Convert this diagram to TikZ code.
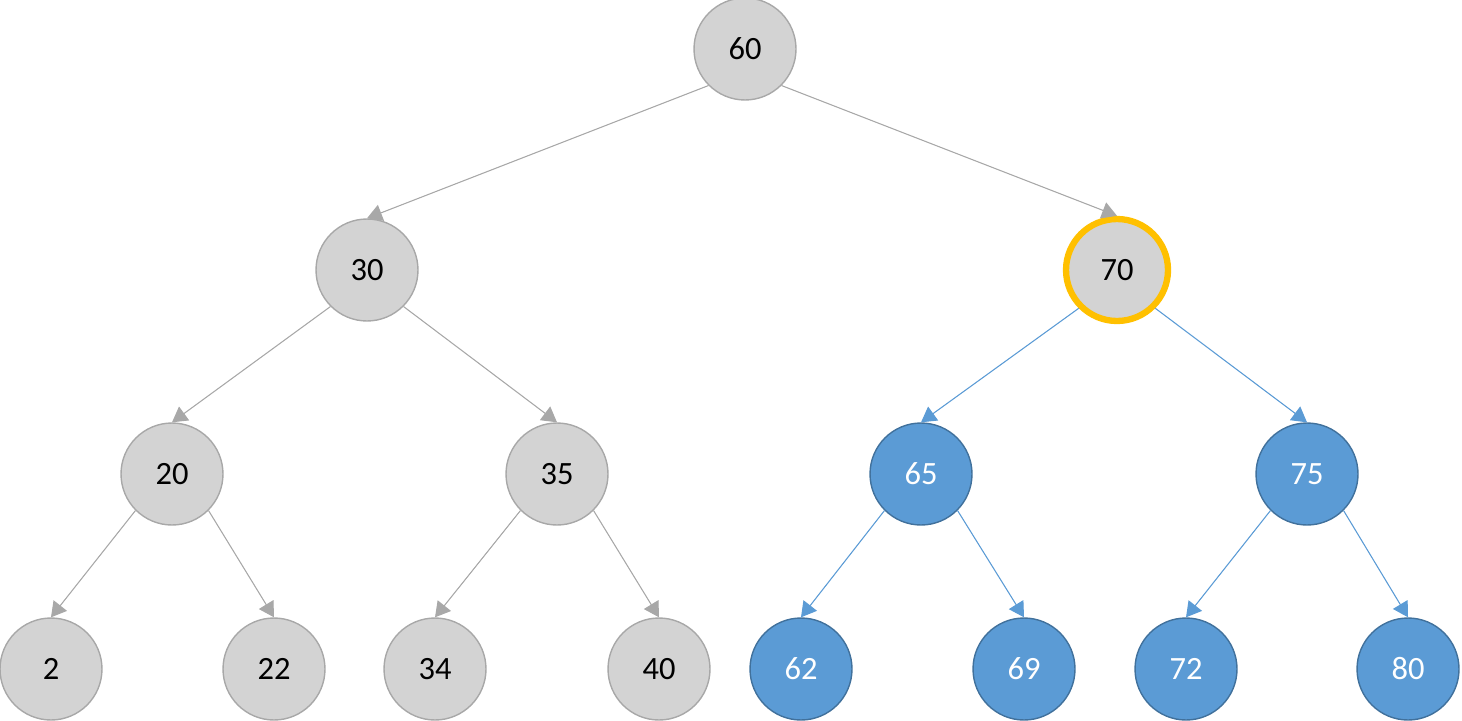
\documentclass[tikz,border=0pt]{standalone}
\usepackage{fontspec}
\setmainfont{Carlito}
\usetikzlibrary{positioning}
\usetikzlibrary{arrows.meta}
\definecolor{nodegray}{RGB}{211,211,211}
\definecolor{edgegray}{RGB}{168,168,168}
\definecolor{nodeblue}{RGB}{91,155,213}
\definecolor{darkblue}{RGB}{65,113,156}
\definecolor{ringgold}{RGB}{255,192,0}
\tikzset{x=0.02cm, y=-0.02cm,
         key/.style={circle, draw=edgegray, fill=nodegray, line width=0.8pt,
                     minimum size=2.04cm, inner sep=0pt,
                     font=\fontsize{18.5}{22}\selectfont},
         sub/.style={key, draw=darkblue, fill=nodeblue, text=white},
         found/.style={key, draw=ringgold, line width=3.6pt},
         link/.style={draw=edgegray, line width=0.6pt,
                      -{Triangle[length=0.3cm, width=0.34cm]}},
         sublink/.style={link, draw=nodeblue, fill=nodeblue} }

\begin{document}
\begin{tikzpicture}
    \useasboundingbox (0,0) rectangle (1462,720);
    \node[key] (n60) at (745,49) {60};
    \node[key] (n30) at (367,270) {30};
    \node[found] (n70) at (1117,270) {70};
    \node[key] (n20) at (172,474) {20};
    \node[key] (n35) at (557,474) {35};
    \node[sub] (n65) at (921,474) {65};
    \node[sub] (n75) at (1307,474) {75};
    \node[key] (n2) at (51,669) {2};
    \node[key] (n22) at (274,669) {22};
    \node[key] (n34) at (435,669) {34};
    \node[key] (n40) at (659,669) {40};
    \node[sub] (n62) at (801,669) {62};
    \node[sub] (n69) at (1024,669) {69};
    \node[sub] (n72) at (1186,669) {72};
    \node[sub] (n80) at (1408,669) {80};
    % gray part of the tree
    \draw[link, fill=edgegray] (n60.south west) -- (n30.north);
    \draw[link, fill=edgegray] (n60.south east) -- (n70.north);
    \draw[link, fill=edgegray] (n30.south west) -- (n20.north);
    \draw[link, fill=edgegray] (n30.south east) -- (n35.north);
    \draw[link, fill=edgegray] (n20.south west) -- (n2.north);
    \draw[link, fill=edgegray] (n20.south east) -- (n22.north);
    \draw[link, fill=edgegray] (n35.south west) -- (n34.north);
    \draw[link, fill=edgegray] (n35.south east) -- (n40.north);
    % subtree below 70
    \draw[sublink] (n70.south west) -- (n65.north);
    \draw[sublink] (n70.south east) -- (n75.north);
    \draw[sublink] (n65.south west) -- (n62.north);
    \draw[sublink] (n65.south east) -- (n69.north);
    \draw[sublink] (n75.south west) -- (n72.north);
    \draw[sublink] (n75.south east) -- (n80.north);
\end{tikzpicture}
\end{document}
